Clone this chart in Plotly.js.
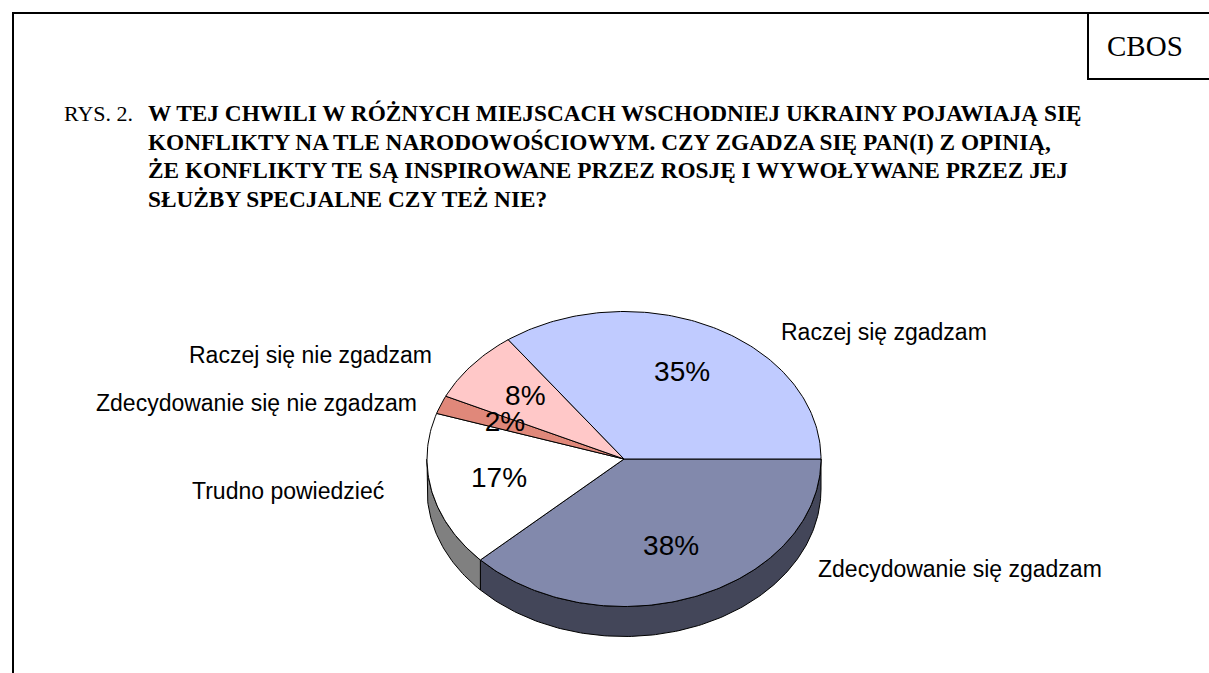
<!DOCTYPE html>
<html>
<head>
<meta charset="utf-8">
<script src="https://cdn.plot.ly/plotly-3.0.1.min.js"></script>
<style>
  body { margin: 0; background: #fff; }
  #plot { width: 1209px; height: 673px; }
</style>
</head>
<body>
<div id="plot"></div>
<script>
// data, clockwise from 3 o'clock
const categories = ['Zdecydowanie się zgadzam', 'Trudno powiedzieć', 'Zdecydowanie się nie zgadzam', 'Raczej się nie zgadzam', 'Raczej się zgadzam'];
const values = [38, 17, 2, 8, 35];

const titleLines = [
    'W TEJ CHWILI W RÓŻNYCH MIEJSCACH WSCHODNIEJ UKRAINY POJAWIAJĄ SIĘ',
    'KONFLIKTY NA TLE NARODOWOŚCIOWYM. CZY ZGADZA SIĘ PAN(I) Z OPINIĄ,',
    'ŻE KONFLIKTY TE SĄ INSPIROWANE PRZEZ ROSJĘ I WYWOŁYWANE PRZEZ JEJ',
    'SŁUŻBY SPECJALNE CZY TEŻ NIE?'
];

// styling
const topColors = ['#8289AC', '#FFFFFF', '#E0887A', '#FFC8C8', '#C0CBFF'];
const sideColors = ['#434659', '#808080', '#9C5F55', '#B38C8C', '#868EB3'];
const labelPos = [[960, 569], [288, 491], [256, 403], [310, 355], [884, 332]];

// pie geometry (pixel units, the axes map 1:1 to the page)
const cx = 624, cy = 459, rx = 197, ry = 147.5, depth = 30;

function ellX(deg) { return cx + rx * Math.cos(deg * Math.PI / 180); }
function ellY(deg) { return cy + ry * Math.sin(deg * Math.PI / 180); }

let total = values.reduce((s, v) => s + v, 0);
let traces = [];
let tops = [];
let pctX = [], pctY = [], pctText = [];

let start = 0;
values.forEach((v, i) => {
    let end = start + v / total * 360;

    // visible front wall (screen angles 0..180)
    let lo = Math.max(start, 0), hi = Math.min(end, 180);
    if (hi > lo) {
        let sx = [], sy = [];
        for (let a = lo; a < hi; a += 1) { sx.push(ellX(a)); sy.push(ellY(a)); }
        sx.push(ellX(hi)); sy.push(ellY(hi));
        for (let a = hi; a > lo; a -= 1) { sx.push(ellX(a)); sy.push(ellY(a) + depth); }
        sx.push(ellX(lo)); sy.push(ellY(lo) + depth);
        sx.push(sx[0]); sy.push(sy[0]);
        traces.push({
            x: sx, y: sy, type: 'scatter', mode: 'lines', fill: 'toself',
            fillcolor: sideColors[i], line: {color: '#000', width: 1},
            hoverinfo: 'skip', showlegend: false
        });
    }

    // top face
    let tx = [cx], ty = [cy];
    for (let a = start; a < end; a += 1) { tx.push(ellX(a)); ty.push(ellY(a)); }
    tx.push(ellX(end)); ty.push(ellY(end));
    tx.push(cx); ty.push(cy);
    tops.push({
        x: tx, y: ty, type: 'scatter', mode: 'lines', fill: 'toself',
        fillcolor: topColors[i], line: {color: '#000', width: 1},
        hoverinfo: 'skip', showlegend: false
    });

    let mid = (start + end) / 2;
    pctX.push(cx + 0.65 * rx * Math.cos(mid * Math.PI / 180));
    pctY.push(cy + 0.65 * ry * Math.sin(mid * Math.PI / 180));
    pctText.push(v + '%');

    start = end;
});

traces = traces.concat(tops);
traces.push({
    x: pctX, y: pctY, text: pctText, type: 'scatter', mode: 'text',
    textposition: 'middle center',
    textfont: {family: 'Liberation Sans, Arial', size: 28, color: '#000'},
    hoverinfo: 'skip', showlegend: false
});

let annotations = categories.map((c, i) => ({
    x: labelPos[i][0], y: labelPos[i][1], xref: 'x', yref: 'y',
    text: c, showarrow: false, xanchor: 'center', yanchor: 'middle',
    font: {family: 'Liberation Sans, Arial', size: 23, color: '#000'}
}));

annotations.push({
    x: 62, y: 113, xref: 'x', yref: 'y', text: 'RYS. 2.', showarrow: false,
    xanchor: 'left', yanchor: 'middle',
    font: {family: 'Liberation Serif, Times New Roman', size: 22, color: '#000'}
});
titleLines.forEach((t, i) => {
    annotations.push({
        x: 146, y: 113 + i * 28.7, xref: 'x', yref: 'y', text: '<b>' + t + '</b>',
        showarrow: false, xanchor: 'left', yanchor: 'middle',
        font: {family: 'Liberation Serif, Times New Roman', size: 23.3, color: '#000'}
    });
});
annotations.push({
    x: 1145, y: 46, xref: 'x', yref: 'y', text: 'CBOS', showarrow: false,
    xanchor: 'center', yanchor: 'middle',
    font: {family: 'Liberation Serif, Times New Roman', size: 29, color: '#000'}
});

let frame = {color: '#000', width: 2};
let layout = {
    width: 1209,
    height: 673,
    margin: {l: 0, r: 0, t: 0, b: 0},
    paper_bgcolor: '#fff',
    plot_bgcolor: '#fff',
    xaxis: {range: [0, 1209], visible: false, fixedrange: true},
    yaxis: {range: [673, 0], visible: false, fixedrange: true},
    showlegend: false,
    annotations: annotations,
    shapes: [
        {type: 'line', xref: 'x', yref: 'y', x0: 12, x1: 1209, y0: 13, y1: 13, line: frame},
        {type: 'line', xref: 'x', yref: 'y', x0: 13, x1: 13, y0: 12, y1: 673, line: frame},
        {type: 'line', xref: 'x', yref: 'y', x0: 1088, x1: 1088, y0: 13, y1: 79, line: frame},
        {type: 'line', xref: 'x', yref: 'y', x0: 1087, x1: 1209, y0: 79, y1: 79, line: frame}
    ]
};

Plotly.newPlot('plot', traces, layout, {staticPlot: true});
</script>
</body>
</html>
